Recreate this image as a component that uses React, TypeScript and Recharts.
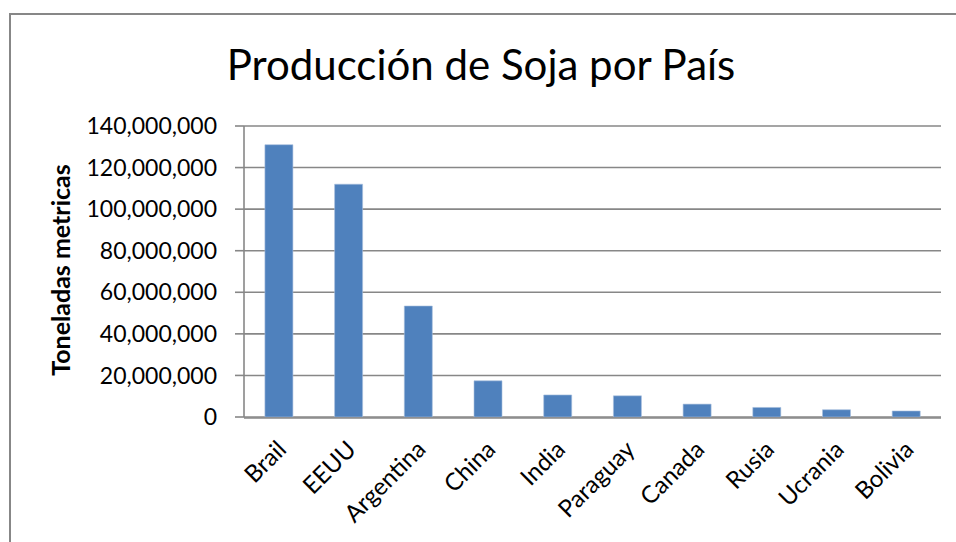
import React from "react";
import { BarChart, Bar, XAxis, YAxis, CartesianGrid } from "recharts";

const countries = ["Brail", "EEUU", "Argentina", "China", "India", "Paraguay", "Canada", "Rusia", "Ucrania", "Bolivia"];
const production = [131000000, 112000000, 53400000, 17400000, 10600000, 10200000, 6200000, 4600000, 3500000, 2900000];
const yTicks = [0, 20000000, 40000000, 60000000, 80000000, 100000000, 120000000, 140000000];
const boundaryTicks = [0, 1, 2, 3, 4, 5, 6, 7, 8, 9, 10];
const titleText = "Producción de Soja por País";
const yAxisTitle = "Toneladas metricas";

const data = countries.map((c, i) => ({ country: c, value: production[i] }));

const FONT = "Lato, 'Open Sans', sans-serif";
const GRAY = "#878787";

const fmt = (v: number) => v.toLocaleString("en-US");

const XTick = (props: any) => {
  const { x, y, payload } = props;
  const tx = x + 3;
  const ty = y + 28;
  return (
    <text
      x={tx}
      y={ty}
      transform={`rotate(-45 ${tx} ${ty})`}
      textAnchor="end"
      dy="0.35em"
      fontSize={24}
      fontFamily={FONT}
      fill="#000"
    >
      {payload.value}
    </text>
  );
};

export default function App() {
  return (
    <div style={{ position: "absolute", left: 0, top: 0, width: 956, height: 542, overflow: "hidden", background: "#fff" }}>
      <div
        style={{
          position: "absolute",
          left: 9,
          top: 13,
          width: 1000,
          height: 600,
          borderTop: `2px solid ${GRAY}`,
          borderLeft: `2px solid ${GRAY}`,
        }}
      />
      <div style={{ position: "absolute", left: 0, top: 0 }}>
        <BarChart
          width={956}
          height={542}
          data={data}
          margin={{ top: 126, right: 15, bottom: 123, left: 0 }}
          barCategoryGap="30%"
        >
          <CartesianGrid vertical={false} stroke={GRAY} strokeWidth={1.6} />
          <XAxis
            xAxisId="b"
            type="number"
            domain={[0, 10]}
            ticks={boundaryTicks}
            allowDataOverflow
            tick={false}
            tickSize={9}
            height={1}
            stroke={GRAY}
            strokeWidth={1.6}
          />
          <XAxis
            dataKey="country"
            interval={0}
            axisLine={false}
            tickLine={false}
            tickSize={0}
            tickMargin={0}
            height={1}
            tick={<XTick />}
          />
          <YAxis
            width={244}
            domain={[0, 140000000]}
            ticks={yTicks}
            tickFormatter={fmt}
            tickSize={9}
            tickMargin={18}
            stroke={GRAY}
            strokeWidth={1.6}
            tick={{ fill: "#000", fontSize: 23, fontFamily: FONT }}
          />
          <Bar dataKey="value" fill="#4f81bd" stroke="#a7bfde" strokeWidth={0.6} isAnimationActive={false} />
        </BarChart>
      </div>
      <svg width={956} height={542} style={{ position: "absolute", left: 0, top: 0, pointerEvents: "none" }}>
        <text x={481} y={80} textAnchor="middle" fontFamily={FONT} fontSize={42} fill="#000">
          {titleText}
        </text>
        <text
          x={61}
          y={270}
          transform="rotate(-90 61 270)"
          textAnchor="middle"
          dy="0.35em"
          fontFamily={FONT}
          fontSize={25}
          fontWeight="bold"
          fill="#000"
        >
          {yAxisTitle}
        </text>
      </svg>
    </div>
  );
}
